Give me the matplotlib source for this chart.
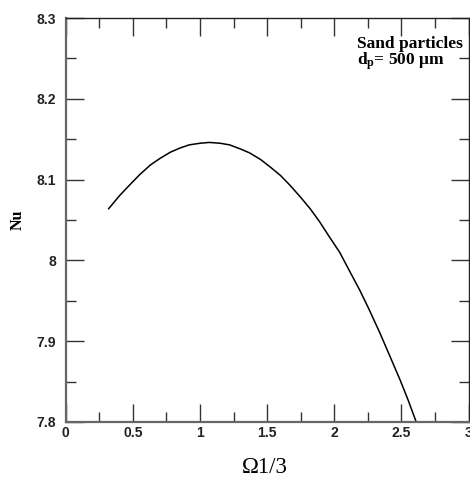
import matplotlib
matplotlib.use("Agg")
import matplotlib.pyplot as plt
from matplotlib.ticker import MultipleLocator

plt.rcParams['mathtext.fontset'] = 'custom'
plt.rcParams['mathtext.rm'] = 'Liberation Serif:bold'
plt.rcParams['mathtext.it'] = 'Liberation Serif:bold'

# Nu against Omega^(1/3), sand particles dp = 500 um
omega13 = [0.32, 0.40, 0.48, 0.55, 0.63, 0.70, 0.78, 0.85, 0.92, 1.00,
           1.07, 1.15, 1.22, 1.30, 1.37, 1.45, 1.52, 1.60, 1.67, 1.75,
           1.82, 1.89, 1.96, 2.04, 2.11, 2.19, 2.26, 2.34, 2.41, 2.49,
           2.55, 2.61]
nu = [8.064, 8.080, 8.094, 8.106, 8.118, 8.126, 8.134, 8.139, 8.143, 8.145,
      8.146, 8.145, 8.143, 8.138, 8.133, 8.125, 8.116, 8.105, 8.093, 8.078,
      8.064, 8.048, 8.030, 8.010, 7.988, 7.963, 7.939, 7.910, 7.883, 7.852,
      7.827, 7.800]

fig = plt.figure(figsize=(4.70, 4.78), dpi=100)
ax = fig.add_axes([0.1398, 0.1172, 0.8572, 0.8451])

ax.plot(omega13, nu, color='black', lw=1.1)

ax.set_xlim(0, 3)
ax.set_ylim(7.8, 8.3)
ax.xaxis.set_minor_locator(MultipleLocator(0.25))
ax.yaxis.set_minor_locator(MultipleLocator(0.05))
ax.set_xticks([0, 0.5, 1, 1.5, 2, 2.5, 3])
ax.set_xticklabels(['0', '0.5', '1', '1.5', '2', '2.5', '3'])
ax.set_yticks([7.8, 7.9, 8.0, 8.1, 8.2, 8.3])
ax.set_yticklabels(['7.8', '7.9', '8', '8.1', '8.2', '8.3'])

ax.tick_params(which='both', direction='in', top=True, right=True,
               color='#333333', width=1.0)
ax.tick_params(which='major', length=13)
ax.tick_params(which='minor', length=7)
ax.tick_params(axis='x', which='major', pad=3)
ax.tick_params(axis='y', which='major', pad=7)
for lab in ax.get_xticklabels() + ax.get_yticklabels():
    lab.set_fontfamily('Liberation Sans')
    lab.set_fontweight('bold')
    lab.set_fontsize(10)
    lab.set_color('#222222')

for side in ['left', 'bottom']:
    ax.spines[side].set_color('#666666')
    ax.spines[side].set_linewidth(1.6)
for side in ['top', 'right']:
    ax.spines[side].set_color('#222222')
    ax.spines[side].set_linewidth(1.0)

ax.set_xlabel('\u03a91/3', family='Liberation Serif', fontsize=16.5)
ax.xaxis.set_label_coords(0.493, -0.086)
ax.set_ylabel('Nu', family='Liberation Serif', fontweight='bold', fontsize=11.5)
ax.yaxis.set_label_coords(-0.0985, 0.5)

ax.text(0.724, 0.927, 'Sand particles', transform=ax.transAxes,
        family='Liberation Serif', fontweight='bold', fontsize=12.5,
        ha='left', va='baseline')
ax.text(0.724, 0.884, 'd$_{\\mathrm{p}}$= 500 \u03bcm', transform=ax.transAxes,
        family='Liberation Serif', fontweight='bold', fontsize=12.5,
        ha='left', va='baseline')

fig.savefig('out.png', dpi=100)
